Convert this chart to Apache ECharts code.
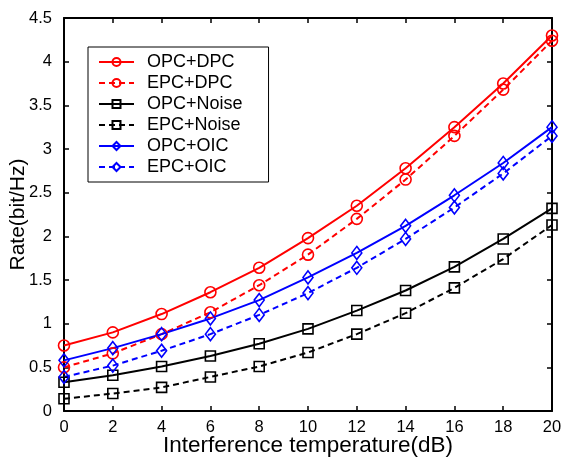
<!DOCTYPE html>
<html>
<head>
<meta charset="utf-8">
<script src="https://cdn.jsdelivr.net/npm/echarts@6/dist/echarts.min.js"></script>
<style>
  html, body { margin: 0; padding: 0; background: #fff; }
  #main { width: 563px; height: 463px; }
</style>
</head>
<body>
<div id="main"></div>
<script>
// 横轴：干扰温度(dB)
var xTemp = [0, 2, 4, 6, 8, 10, 12, 14, 16, 18, 20];

// 各方案速率 (bit/Hz)
var opcDpc   = [0.75, 0.90, 1.11, 1.36, 1.64, 1.98, 2.35, 2.78, 3.25, 3.75, 4.30];
var epcDpc   = [0.50, 0.66, 0.88, 1.13, 1.44, 1.79, 2.20, 2.65, 3.15, 3.68, 4.24];
var opcNoise = [0.33, 0.41, 0.51, 0.63, 0.77, 0.94, 1.15, 1.38, 1.65, 1.97, 2.32];
var epcNoise = [0.14, 0.20, 0.27, 0.39, 0.51, 0.67, 0.88, 1.12, 1.41, 1.74, 2.13];
var opcOic   = [0.58, 0.72, 0.88, 1.06, 1.27, 1.53, 1.81, 2.12, 2.47, 2.84, 3.25];
var epcOic   = [0.39, 0.52, 0.69, 0.88, 1.10, 1.35, 1.64, 1.97, 2.33, 2.72, 3.15];

var seriesNames = ['OPC+DPC', 'EPC+DPC', 'OPC+Noise', 'EPC+Noise', 'OPC+OIC', 'EPC+OIC'];

var FONT = 'Liberation Sans, Arial, sans-serif';

function pairs(arr) {
    var out = [];
    for (var i = 0; i < arr.length; i++) {
        out.push([xTemp[i], arr[i]]);
    }
    return out;
}

function makeSeries(name, data, color, dashed, symbol, size) {
    return {
        name: name,
        type: 'line',
        data: pairs(data),
        symbol: symbol,
        symbolSize: size,
        showAllSymbol: true,
        itemStyle: {
            color: 'none',
            borderColor: color,
            borderWidth: 1.6
        },
        lineStyle: {
            color: color,
            width: 2,
            type: dashed ? [6, 4] : 'solid'
        },
        emphasis: { disabled: true }
    };
}

var myChart = echarts.init(document.getElementById('main'), null, { renderer: 'canvas' });

var axisCommon = {
    type: 'value',
    axisLine: { show: true, onZero: false, lineStyle: { color: '#000', width: 2 } },
    axisTick: { show: true, inside: true, length: 5, lineStyle: { color: '#000', width: 1.5 } },
    splitLine: { show: false }
};

var option = {
    animation: false,
    backgroundColor: '#fff',
    grid: { left: 64, right: 11, top: 18, bottom: 52, outerBoundsMode: 'none', containLabel: false },
    legend: {
        orient: 'vertical',
        left: 88,
        top: 47,
        padding: [6, 26, 6, 10],
        itemWidth: 35,
        itemHeight: 10,
        itemGap: 3,
        borderColor: '#000',
        borderWidth: 1,
        backgroundColor: '#fff',
        textStyle: { fontFamily: FONT, fontSize: 18, color: '#000', padding: [0, 0, 0, 8] },
        data: seriesNames
    },
    xAxis: [
        Object.assign({}, axisCommon, {
            min: 0, max: 20, interval: 2,
            position: 'bottom',
            name: 'Interference temperature(dB)',
            nameLocation: 'middle',
            nameGap: 23,
            nameMoveOverlap: false,
            nameTextStyle: { fontFamily: FONT, fontSize: 22.5, color: '#000' },
            axisLabel: { fontFamily: FONT, fontSize: 16.5, color: '#000', margin: 8 }
        }),
        Object.assign({}, axisCommon, {
            min: 0, max: 20, interval: 2,
            position: 'top',
            axisLabel: { show: false }
        })
    ],
    yAxis: [
        Object.assign({}, axisCommon, {
            min: 0, max: 4.5, interval: 0.5,
            position: 'left',
            name: 'Rate(bit/Hz)',
            nameLocation: 'middle',
            nameGap: 35,
            nameMoveOverlap: false,
            nameTextStyle: { fontFamily: FONT, fontSize: 21, color: '#000' },
            axisLabel: { fontFamily: FONT, fontSize: 16.5, color: '#000', margin: 12 }
        }),
        Object.assign({}, axisCommon, {
            min: 0, max: 4.5, interval: 0.5,
            position: 'right',
            axisLabel: { show: false }
        })
    ],
    series: [
        makeSeries(seriesNames[0], opcDpc, '#ff0000', false, 'circle', 11),
        makeSeries(seriesNames[1], epcDpc, '#ff0000', true, 'circle', 11),
        makeSeries(seriesNames[2], opcNoise, '#000000', false, 'rect', 10),
        makeSeries(seriesNames[3], epcNoise, '#000000', true, 'rect', 10),
        makeSeries(seriesNames[4], opcOic, '#0000ff', false, 'diamond', [10, 13]),
        makeSeries(seriesNames[5], epcOic, '#0000ff', true, 'diamond', [10, 13])
    ]
};

myChart.setOption(option);
</script>
</body>
</html>
